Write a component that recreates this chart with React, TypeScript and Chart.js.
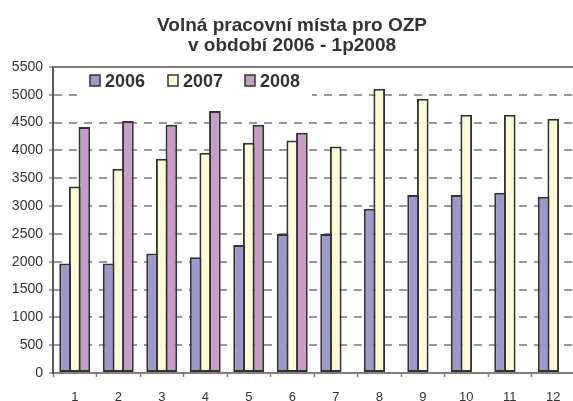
import React, { useEffect, useRef } from "react";
import { Chart, registerables } from "chart.js";

Chart.register(...registerables);

const categories = ["1", "2", "3", "4", "5", "6", "7", "8", "9", "10", "11", "12"];
const seriesLabels = ["2006", "2007", "2008"];
const values2006 = [1970, 1970, 2150, 2080, 2300, 2500, 2500, 2950, 3200, 3200, 3240, 3170];
const values2007 = [3350, 3670, 3850, 3960, 4140, 4180, 4070, 5110, 4930, 4640, 4640, 4570];
const values2008: (number | null)[] = [4420, 4530, 4460, 4710, 4460, 4320, null, null, null, null, null, null];
const titleLines = ["Volná pracovní místa pro OZP", "v období 2006 - 1p2008"];
const yMin = 0;
const yMax = 5500;
const yStep = 500;

const seriesColors = ["#9C98CA", "#FFFCD6", "#C89CC8"];
const FONT = '"Liberation Sans", Arial, sans-serif';

const titlePlugin = {
  id: "customTitle",
  afterDraw(chart: any) {
    const ctx = chart.ctx;
    ctx.save();
    ctx.font = `bold 19px ${FONT}`;
    ctx.fillStyle = "#333333";
    ctx.textAlign = "center";
    ctx.textBaseline = "alphabetic";
    ctx.fillText(titleLines[0], 292, 31);
    ctx.fillText(titleLines[1], 292, 51);
    ctx.restore();
  },
};

const frameTopPlugin = {
  id: "frameTop",
  afterDatasetsDraw(chart: any) {
    const { ctx, chartArea } = chart;
    ctx.save();
    ctx.strokeStyle = "#8a7d78";
    ctx.lineWidth = 2;
    ctx.beginPath();
    ctx.moveTo(chartArea.left, chartArea.top);
    ctx.lineTo(chartArea.right, chartArea.top);
    ctx.stroke();
    ctx.restore();
  },
};

const legendPlugin = {
  id: "customLegend",
  afterDraw(chart: any) {
    const ctx = chart.ctx;
    ctx.save();
    ctx.fillStyle = "#ffffff";
    ctx.fillRect(80, 69, 232, 28);
    ctx.font = `bold 18px ${FONT}`;
    ctx.textBaseline = "alphabetic";
    ctx.textAlign = "left";
    const starts = [90, 168, 245];
    chart.data.datasets.forEach((ds: any, i: number) => {
      const x = starts[i];
      ctx.fillStyle = ds.backgroundColor;
      ctx.fillRect(x, 75, 10, 11);
      ctx.strokeStyle = "#333333";
      ctx.lineWidth = 1.5;
      ctx.strokeRect(x, 75, 10, 11);
      ctx.fillStyle = "#333333";
      ctx.fillText(ds.label, x + 15, 87);
    });
    ctx.restore();
  },
};

export default function App() {
  const canvasRef = useRef<HTMLCanvasElement | null>(null);

  useEffect(() => {
    document.body.style.margin = "0";
    const canvas = canvasRef.current;
    if (!canvas) return;
    const data = [values2006, values2007, values2008];
    const chart = new Chart(canvas, {
      type: "bar",
      data: {
        labels: categories,
        datasets: seriesLabels.map((label, i) => ({
          label,
          data: data[i] as any,
          backgroundColor: seriesColors[i],
          borderColor: "#333333",
          borderWidth: 2,
          borderSkipped: false,
          categoryPercentage: 0.665,
          barPercentage: 1.21,
        })),
      },
      options: {
        responsive: false,
        animation: false,
        devicePixelRatio: 1,
        layout: { padding: { top: 67, left: 0, right: 0, bottom: 0 } },
        plugins: {
          legend: { display: false },
          title: { display: false },
          tooltip: { enabled: false },
        },
        scales: {
          x: {
            grid: {
              offset: true,
              drawOnChartArea: false,
              drawTicks: true,
              tickLength: 4,
              tickColor: "#8a7d78",
              tickWidth: 1.5,
            },
            border: { color: "#8a7d78", width: 2 },
            ticks: {
              color: "#333333",
              font: { family: FONT, size: 13 },
              padding: 13,
              maxRotation: 0,
              autoSkip: false,
            },
            afterFit(scale: any) {
              scale.height = 28;
            },
          },
          y: {
            min: yMin,
            max: yMax,
            ticks: {
              stepSize: yStep,
              color: "#333333",
              font: { family: FONT, size: 14 },
              padding: 6,
              callback: (v: any) => String(v),
            },
            grid: {
              color: (c: any) =>
                c.tick && (c.tick.value === yMin || c.tick.value === yMax) ? "rgba(0,0,0,0)" : "#999999",
              lineWidth: 2,
              drawTicks: true,
              tickLength: 4,
              tickColor: "#888888",
              tickWidth: 1.5,
            },
            border: { color: "#605858", width: 2, dash: [8, 7] },
            afterFit(scale: any) {
              scale.width = 53;
            },
          },
        },
      },
      plugins: [frameTopPlugin, legendPlugin, titlePlugin],
    });
    return () => chart.destroy();
  }, []);

  return (
    <div
      style={{
        position: "fixed",
        left: 0,
        top: 0,
        width: 573,
        height: 401,
        overflow: "hidden",
        background: "#ffffff",
      }}
    >
      <canvas ref={canvasRef} width={575} height={401} style={{ width: 575, height: 401, display: "block" }} />
    </div>
  );
}
